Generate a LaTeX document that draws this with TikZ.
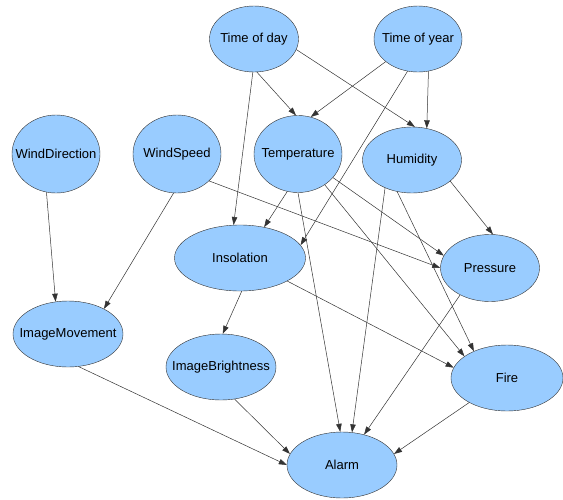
\documentclass[tikz,border=0pt]{standalone}
\usepackage{fontspec}
\setmainfont{Liberation Sans}
\usetikzlibrary{arrows.meta,shapes.geometric}
\definecolor{varblue}{RGB}{153,204,255}
\newcommand{\lbl}[1]{\makebox[0pt]{#1}}

\begin{document}
\begin{tikzpicture}[x=1pt, y=-1pt,
      var/.style={ellipse, draw=black!80, fill=varblue, inner sep=0pt,
                  font=\fontsize{13}{15}\selectfont},
      small/.style={minimum width=110, minimum height=66},
      round/.style={minimum width=88, minimum height=78},
      link/.style={-{Triangle[length=8pt,width=5.5pt]}, draw=black!80,
                   line width=0.5pt}
    ]
      \useasboundingbox (0,0) rectangle (563,499);

      \node[var, minimum width=89, minimum height=66]
        (time_day) at (254, 39) {\lbl{Time of day}};
      \node[var, minimum width=88, minimum height=66]
        (time_year) at (418, 39) {\lbl{Time of year}};

      \node[var, round] (wind_dir) at (56, 154) {\lbl{WindDirection}};
      \node[var, round] (wind_speed) at (177, 154) {\lbl{WindSpeed}};
      \node[var, minimum width=88, minimum height=77]
        (temperature) at (298, 154) {\lbl{Temperature}};
      \node[var, minimum width=99, minimum height=66]
        (humidity) at (412, 160) {\lbl{Humidity}};

      \node[var, minimum width=131, minimum height=66]
        (insolation) at (240, 258) {\lbl{Insolation}};
      \node[var, minimum width=99, minimum height=67]
        (pressure) at (490, 268) {\lbl{Pressure}};

      \node[var, small] (image_move) at (68, 334) {\lbl{ImageMovement}};
      \node[var, small] (image_bright) at (221, 367) {\lbl{ImageBrightness}};
      \node[var, minimum width=112, minimum height=66]
        (fire) at (507, 378) {\lbl{Fire}};
      \node[var, small] (alarm) at (342, 465) {\lbl{Alarm}};

      % top row
      \draw[link] (time_day.-85) -- (temperature.93);
      \draw[link] (time_day.-14) -- (humidity.85);
      \draw[link] (time_day.-92) -- (insolation.101);
      \draw[link] (time_year.-145) -- (temperature.71);
      \draw[link] (time_year.-72) -- (humidity.65);
      \draw[link] (time_year.-108) -- (insolation.12);

      % wind
      \draw[link] (wind_dir.-104) -- (image_move.111);
      \draw[link] (wind_speed.-95) -- (image_move.35);
      \draw[link] (wind_speed.-40) -- (pressure.180);

      \draw[link] (temperature.-106) -- (insolation.52);
      \draw[link] (temperature.-34) -- (pressure.165);
      \draw[link] (temperature.-49) -- (fire.153);
      \draw[link] (temperature.-90) -- (alarm.93);

      \draw[link] (humidity.-29) -- (pressure.85);
      \draw[link] (humidity.-115) -- (fire.141);
      \draw[link] (humidity.-134) -- (alarm.73);

      \draw[link] (insolation.-87) -- (image_bright.87);
      \draw[link] (insolation.-26) -- (fire.169);
      \draw[link] (pressure.-138) -- (alarm.54);

      % into the alarm
      \draw[link] (image_move.-72) -- (alarm.180);
      \draw[link] (image_bright.-67) -- (alarm.168);
      \draw[link] (fire.-147) -- (alarm.12);
    \end{tikzpicture}
\end{document}
